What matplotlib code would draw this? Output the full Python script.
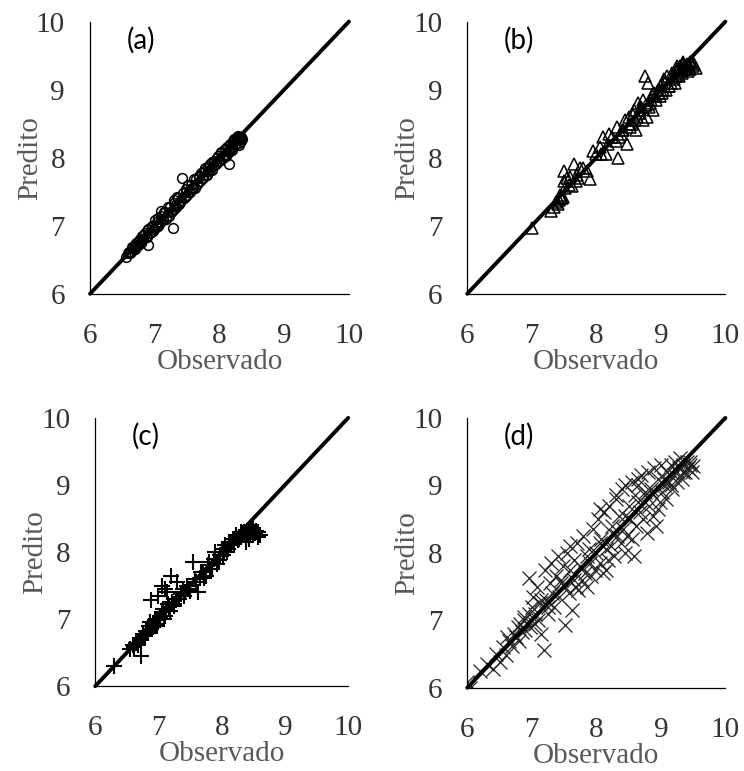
import matplotlib
matplotlib.use('Agg')
from matplotlib import pyplot as plt

plt.rcParams['font.family'] = ['Liberation Serif']
plt.rcParams['font.serif'] = ['Liberation Serif']

# Observed vs predicted values, one pair of lists per panel
obs_a = [6.55, 6.60, 6.62, 6.65, 6.68, 6.70, 6.72, 6.75, 6.78, 6.80,
         6.82, 6.85, 6.88, 6.90, 6.90, 6.92, 6.95, 6.98, 7.00, 7.02,
         7.05, 7.05, 7.08, 7.10, 7.12, 7.15, 7.18, 7.20, 7.22, 7.25,
         7.28, 7.30, 7.30, 7.32, 7.35, 7.38, 7.40, 7.42, 7.45, 7.48,
         7.50, 7.52, 7.55, 7.58, 7.60, 7.62, 7.65, 7.68, 7.70, 7.72,
         7.75, 7.78, 7.80, 7.82, 7.85, 7.88, 7.90, 7.92, 7.95, 7.98,
         8.00, 8.02, 8.05, 8.08, 8.10, 8.12, 8.15, 8.18, 8.20, 8.22,
         8.25, 8.28, 8.30, 8.32, 8.35, 8.30, 8.25, 8.20, 8.15, 8.10,
         6.58, 6.63, 6.66, 6.69, 6.71, 6.74, 6.77, 6.79, 6.83, 6.86,
         6.89, 6.93, 6.96, 6.99, 7.03, 7.06, 7.09, 7.13, 7.16, 7.19,
         7.23, 7.26, 7.29, 7.33, 7.36, 7.39, 7.43, 7.46, 7.49, 7.53,
         7.56, 7.59, 7.63, 7.66, 7.69, 7.73, 7.76, 7.79, 7.83, 7.86,
         7.89, 7.93, 7.96, 7.99, 8.03, 8.06, 8.09, 8.13, 8.16, 8.19,
         8.23, 8.26, 8.29, 8.31, 8.33, 8.34, 8.27, 8.24, 8.21, 8.17]
pred_a = [6.54, 6.62, 6.60, 6.68, 6.66, 6.72, 6.70, 6.78, 6.74, 6.85,
          6.80, 6.90, 6.84, 6.72, 6.95, 6.90, 6.98, 6.92, 7.08, 6.98,
          7.12, 7.00, 7.06, 7.22, 7.08, 7.20, 7.10, 7.28, 7.15, 7.20,
          6.97, 7.38, 7.25, 7.30, 7.42, 7.32, 7.38, 7.70, 7.40, 7.50,
          7.45, 7.60, 7.50, 7.55, 7.68, 7.55, 7.62, 7.72, 7.65, 7.78,
          7.70, 7.85, 7.75, 7.80, 7.90, 7.82, 7.88, 7.95, 7.90, 8.02,
          7.95, 8.08, 8.00, 8.12, 8.05, 8.15, 7.90, 8.20, 8.12, 8.25,
          8.20, 8.28, 8.22, 8.30, 8.28, 8.18, 8.22, 8.15, 8.08, 8.02,
          6.60, 6.61, 6.69, 6.66, 6.74, 6.72, 6.80, 6.76, 6.86, 6.83,
          6.93, 6.90, 7.00, 6.95, 7.06, 7.02, 7.14, 7.10, 7.20, 7.15,
          7.27, 7.22, 7.33, 7.28, 7.40, 7.35, 7.48, 7.42, 7.54, 7.50,
          7.60, 7.55, 7.68, 7.62, 7.73, 7.70, 7.80, 7.75, 7.87, 7.82,
          7.93, 7.90, 8.00, 7.95, 8.07, 8.02, 8.13, 8.10, 8.20, 8.15,
          8.27, 8.22, 8.32, 8.27, 8.30, 8.25, 8.30, 8.20, 8.25, 8.12]

obs_b = [7.00, 7.30, 7.35, 7.40, 7.42, 7.45, 7.48, 7.50, 7.50, 7.55,
         7.60, 7.65, 7.70, 7.72, 7.80, 7.90, 7.95, 8.00, 8.05, 8.10,
         8.15, 8.20, 8.25, 8.33, 8.30, 8.32, 8.35, 8.40, 8.45, 8.48,
         8.50, 8.52, 8.55, 8.58, 8.60, 8.62, 8.65, 8.68, 8.70, 8.72,
         8.75, 8.78, 8.80, 8.82, 8.85, 8.88, 8.90, 8.92, 8.95, 8.98,
         9.00, 9.02, 9.05, 9.08, 9.10, 9.12, 9.15, 9.18, 9.20, 9.22,
         9.25, 9.28, 9.30, 9.32, 9.35, 9.38, 9.40, 9.42, 9.45, 9.50,
         7.38, 7.44, 7.47, 7.52, 7.58, 7.62, 7.68, 7.75, 7.85, 8.08,
         8.18, 8.38, 8.42, 8.52, 8.57, 8.63, 8.67, 8.73, 8.77, 8.83,
         8.87, 8.93, 8.97, 9.03, 9.07, 9.13, 9.17, 9.23, 9.27, 9.33,
         9.36, 9.41, 9.44, 9.47, 9.52, 9.55, 9.30, 9.35, 9.25, 9.45]
pred_b = [6.97, 7.22, 7.28, 7.32, 7.38, 7.40, 7.42, 7.80, 7.65, 7.70,
          7.72, 7.90, 7.75, 7.70, 7.85, 7.68, 8.10, 8.05, 8.15, 8.30,
          8.05, 8.35, 8.30, 8.00, 8.25, 8.45, 8.30, 8.40, 8.55, 8.20,
          8.60, 8.45, 8.50, 8.70, 8.55, 8.40, 8.80, 8.65, 8.75, 8.55,
          9.20, 8.60, 9.10, 8.75, 8.85, 8.70, 8.95, 8.85, 9.00, 8.90,
          9.05, 8.95, 9.15, 9.00, 9.20, 9.05, 9.10, 9.25, 9.15, 9.10,
          9.30, 9.20, 9.35, 9.25, 9.38, 9.30, 9.32, 9.28, 9.40, 9.35,
          7.35, 7.45, 7.40, 7.55, 7.60, 7.58, 7.65, 7.85, 7.80, 8.05,
          8.20, 8.35, 8.40, 8.50, 8.62, 8.60, 8.70, 8.85, 8.78, 8.80,
          8.92, 8.90, 8.95, 9.00, 9.10, 9.05, 9.18, 9.20, 9.22, 9.30,
          9.35, 9.38, 9.36, 9.40, 9.38, 9.32, 9.28, 9.40, 9.35, 9.30]

obs_c = [6.30, 6.55, 6.60, 6.62, 6.65, 6.73, 6.72, 6.75, 6.80, 6.82,
         6.85, 6.88, 6.88, 6.92, 6.95, 6.98, 7.00, 7.00, 7.02, 7.05,
         7.05, 7.08, 7.10, 7.12, 7.15, 7.18, 7.20, 7.22, 7.25, 7.28,
         7.30, 7.35, 7.40, 7.45, 7.50, 7.55, 7.60, 7.62, 7.65, 7.70,
         7.75, 7.80, 7.85, 7.90, 7.92, 7.95, 8.00, 8.02, 8.05, 8.08,
         8.10, 8.12, 8.15, 8.18, 8.20, 8.22, 8.25, 8.28, 8.30, 8.35,
         8.40, 8.42, 8.45, 8.48, 8.50, 8.52, 8.55, 8.60, 8.38, 8.45,
         6.68, 6.78, 6.84, 6.87, 6.91, 6.94, 6.97, 7.03, 7.07, 7.11,
         7.14, 7.17, 7.24, 7.32, 7.38, 7.42, 7.48, 7.58, 7.68, 7.72,
         7.78, 7.82, 7.88, 7.98, 8.03, 8.07, 8.13, 8.17, 8.23, 8.27,
         8.32, 8.36, 8.41, 8.44, 8.47, 8.53, 8.57, 8.58, 8.50, 8.43]
pred_c = [6.30, 6.55, 6.62, 6.58, 6.65, 6.45, 6.72, 6.78, 6.82, 6.80,
          6.90, 6.85, 7.28, 6.88, 6.92, 7.00, 7.35, 6.98, 7.05, 7.50,
          7.10, 7.00, 7.45, 7.15, 7.22, 7.12, 7.65, 7.25, 7.20, 7.30,
          7.55, 7.38, 7.35, 7.50, 7.42, 7.85, 7.55, 7.40, 7.62, 7.70,
          7.65, 7.85, 7.75, 8.00, 7.82, 7.88, 8.05, 7.95, 8.10, 8.00,
          8.05, 8.15, 8.10, 8.20, 8.12, 8.25, 8.18, 8.22, 8.30, 8.25,
          8.28, 8.32, 8.25, 8.30, 8.35, 8.28, 8.32, 8.25, 8.15, 8.35,
          6.62, 6.75, 6.80, 6.95, 6.88, 6.98, 6.90, 7.02, 7.15, 7.05,
          7.40, 7.18, 7.22, 7.30, 7.45, 7.40, 7.45, 7.60, 7.70, 7.62,
          7.80, 7.75, 7.90, 7.95, 8.00, 8.05, 8.12, 8.15, 8.22, 8.20,
          8.28, 8.30, 8.32, 8.28, 8.35, 8.30, 8.22, 8.30, 8.25, 8.20]

obs_d = [6.00, 6.05, 6.20, 6.30, 6.40, 6.45, 6.50, 6.55, 6.60, 6.65,
         6.70, 6.72, 6.75, 6.78, 6.80, 6.82, 6.85, 6.88, 6.90, 6.96,
         6.95, 6.98, 7.00, 7.02, 7.05, 7.08, 7.10, 7.12, 7.15, 7.19,
         7.20, 7.22, 7.25, 7.28, 7.30, 7.32, 7.35, 7.38, 7.40, 7.42,
         7.45, 7.48, 7.52, 7.52, 7.55, 7.58, 7.60, 7.62, 7.65, 7.68,
         7.70, 7.72, 7.75, 7.78, 7.80, 7.82, 7.85, 7.88, 7.90, 7.92,
         7.95, 7.98, 8.00, 8.02, 8.05, 8.08, 8.10, 8.12, 8.15, 8.18,
         8.20, 8.22, 8.25, 8.28, 8.30, 8.32, 8.35, 8.38, 8.40, 8.42,
         8.45, 8.48, 8.50, 8.52, 8.55, 8.58, 8.60, 8.62, 8.65, 8.68,
         8.70, 8.72, 8.75, 8.78, 8.80, 8.82, 8.85, 8.88, 8.90, 8.92,
         8.95, 8.98, 9.00, 9.02, 9.05, 9.08, 9.10, 9.12, 9.15, 9.18,
         9.20, 9.22, 9.25, 9.28, 9.30, 9.32, 9.35, 9.38, 9.40, 9.42,
         9.45, 9.48, 9.50, 8.05, 8.15, 7.60, 8.45, 8.65, 8.30, 8.75,
         6.62, 6.88, 7.05, 7.15, 7.25, 7.45, 7.65, 7.85, 8.05, 8.25,
         8.45, 8.65, 8.85, 9.05, 9.25, 9.45, 8.95, 9.15, 9.35, 8.55]
pred_d = [6.08, 6.00, 6.25, 6.35, 6.28, 6.50, 6.38, 6.60, 6.48, 6.70,
          6.62, 6.80, 6.75, 6.90, 6.70, 6.95, 6.82, 7.05, 6.85, 7.63,
          7.10, 6.90, 7.20, 7.35, 6.95, 7.50, 7.00, 7.25, 6.80, 6.56,
          7.75, 7.30, 7.10, 7.55, 7.85, 7.40, 7.20, 7.65, 7.95, 7.35,
          7.60, 7.80, 6.93, 7.50, 8.00, 7.40, 7.75, 7.15, 7.90, 7.50,
          8.15, 7.45, 7.80, 7.60, 8.25, 7.70, 7.50, 8.05, 7.85, 7.65,
          8.35, 7.75, 8.00, 8.50, 7.85, 8.20, 7.70, 8.60, 8.05, 7.90,
          8.70, 8.10, 8.40, 7.95, 8.80, 8.25, 8.55, 8.15, 8.95, 8.35,
          9.00, 8.25, 8.70, 8.50, 9.05, 7.95, 8.85, 8.40, 9.10, 8.60,
          9.15, 8.50, 8.90, 8.30, 9.20, 8.70, 8.95, 8.55, 9.25, 8.40,
          9.10, 8.75, 9.30, 8.90, 9.00, 8.80, 9.20, 9.05, 9.30, 8.95,
          9.15, 9.35, 9.05, 9.25, 9.40, 9.10, 9.30, 9.20, 9.35, 9.25,
          9.30, 9.20, 9.28, 8.65, 7.75, 8.10, 8.00, 9.00, 8.85, 8.85,
          6.75, 7.00, 7.10, 7.30, 7.20, 7.55, 7.60, 7.95, 8.15, 8.30,
          8.55, 8.75, 8.90, 9.10, 9.20, 9.35, 8.65, 9.00, 9.20, 8.20]

panel_labels = ['(a)', '(b)', '(c)', '(d)']
ticks = [6, 7, 8, 9, 10]
tick_labels = ['6', '7', '8', '9', '10']

fig = plt.figure(figsize=(7.44, 7.71), dpi=100)

# axes boxes in figure fractions [left, bottom, width, height]
boxes = [[0.121, 0.619, 0.348, 0.353],
         [0.628, 0.619, 0.347, 0.353],
         [0.128, 0.110, 0.340, 0.348],
         [0.628, 0.108, 0.347, 0.350]]

marker_styles = [dict(marker='o', ms=7, mfc='none', mec='black', mew=1.1),
                 dict(marker='^', ms=8, mfc='none', mec='black', mew=1.1),
                 dict(marker='+', ms=11, mec='black', mew=1.5),
                 dict(marker='x', ms=9.5, mec='#222222', mew=0.9)]

data = [(obs_a, pred_a), (obs_b, pred_b), (obs_c, pred_c), (obs_d, pred_d)]

for i in range(4):
    ax = fig.add_axes(boxes[i])
    x, y = data[i]
    ax.plot(x, y, linestyle='none', **marker_styles[i])
    # 1:1 line
    ax.plot([6, 10], [6, 10], '-', color='black', lw=2.8, clip_on=False,
            solid_capstyle='round')
    ax.set_xlim(6, 10)
    ax.set_ylim(6, 10)
    ax.set_xticks(ticks)
    ax.set_yticks(ticks)
    ax.set_xticklabels(tick_labels, family='Liberation Serif', fontsize=21,
                       color='#333333')
    ax.set_yticklabels(tick_labels, family='Liberation Serif', fontsize=21,
                       color='#333333')
    for side in ['top', 'right']:
        ax.spines[side].set_visible(False)
    for side in ['left', 'bottom']:
        ax.spines[side].set_linewidth(0.9)
    ax.tick_params(length=0)
    ax.tick_params(axis='x', pad=21)
    ax.tick_params(axis='y', pad=18)
    ax.set_xlabel('Observado', family='Liberation Serif', fontsize=21,
                  color='#595959', labelpad=0)
    ax.set_ylabel('Predito', family='Liberation Serif', fontsize=21,
                  color='#595959', labelpad=-5)
    ax.text(6.57, 9.72, panel_labels[i], family='Lato', fontsize=20,
            color='black', va='center', ha='left')

fig.savefig('out.png', dpi=100)
